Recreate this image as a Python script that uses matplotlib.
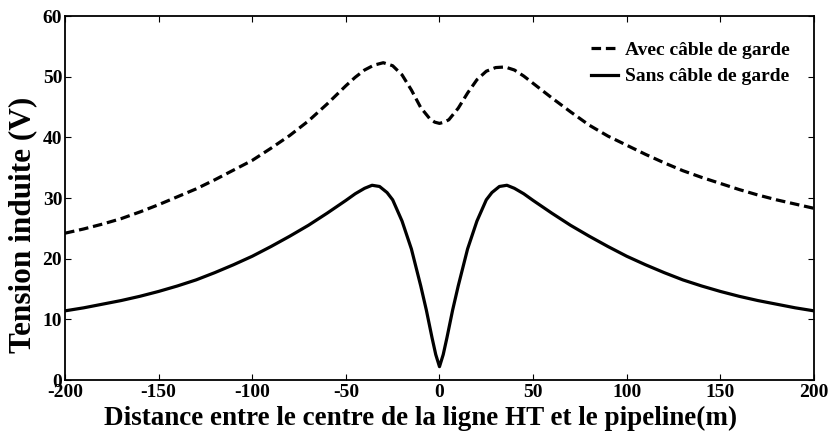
import numpy as np
import matplotlib.pyplot as plt

# distance from the HT line centre (m)
x_avec = [-200, -190, -180, -170, -160, -150, -140, -130, -120, -110, -100,
          -90, -80, -70, -60, -50, -45, -40, -35, -30, -25, -20, -15, -10, -5, -2.5, 0,
          2.5, 5, 10, 15, 20, 25, 30, 35, 40, 45, 50, 60, 70, 80, 90, 100,
          110, 120, 130, 140, 150, 160, 170, 180, 190, 200]
# induced voltage with earth wire (V)
v_avec = [24.2, 24.9, 25.7, 26.6, 27.7, 28.9, 30.2, 31.5, 33.0, 34.6, 36.2,
          38.2, 40.3, 42.7, 45.5, 48.5, 49.9, 51.1, 51.9, 52.3, 51.8, 50.3, 47.8, 44.9, 43.0, 42.5, 42.3,
          42.5, 42.9, 44.8, 47.3, 49.5, 50.9, 51.5, 51.6, 51.1, 50.1, 48.9, 46.5, 44.2, 42.0, 40.2, 38.7,
          37.2, 35.8, 34.5, 33.4, 32.4, 31.4, 30.5, 29.7, 29.0, 28.3]

x_sans = [-200, -190, -180, -170, -160, -150, -140, -130, -120, -110, -100,
          -90, -80, -70, -60, -50, -45, -40, -36, -32, -28, -25, -20, -15, -10,
          -7, -4, -2, 0, 2, 4, 7, 10, 15, 20, 25, 28, 32, 36, 40, 45, 50,
          60, 70, 80, 90, 100, 110, 120, 130, 140, 150, 160, 170, 180, 190, 200]
# induced voltage without earth wire (V)
v_sans = [11.4, 11.9, 12.5, 13.1, 13.8, 14.6, 15.5, 16.5, 17.7, 19.0, 20.4,
          22.0, 23.7, 25.5, 27.5, 29.6, 30.7, 31.6, 32.1, 31.9, 30.9, 29.7, 26.2, 21.6, 15.5,
          11.5, 7.0, 4.2, 2.2, 4.2, 7.0, 11.5, 15.5, 21.6, 26.2, 29.7, 30.9, 31.9, 32.1, 31.6, 30.7, 29.6,
          27.5, 25.5, 23.7, 22.0, 20.4, 19.0, 17.7, 16.5, 15.5, 14.6, 13.8, 13.1, 12.5, 11.9, 11.4]

xticks = [-200, -150, -100, -50, 0, 50, 100, 150, 200]
yticks = [0, 10, 20, 30, 40, 50, 60]

plt.rcParams['font.family'] = ['Liberation Serif', 'DejaVu Serif']
plt.rcParams['font.weight'] = 'bold'
plt.rcParams['axes.unicode_minus'] = False

fig = plt.figure(figsize=(8.3, 4.36), dpi=100)
ax = fig.add_axes([0.0783, 0.1284, 0.9024, 0.8349])

ax.plot(x_avec, v_avec, color='black', linewidth=2.3, linestyle=(0, (3.0, 1.5)),
        label='Avec câble de garde')
ax.plot(x_sans, v_sans, color='black', linewidth=2.3, label='Sans câble de garde')

ax.set_xlim(-200, 200)
ax.set_ylim(0, 60)
ax.set_xticks(xticks)
ax.set_yticks(yticks)
ax.tick_params(direction='in', top=True, right=True, length=4, width=0.8,
               labelsize=14, pad=2)
ax.tick_params(axis='x', pad=3)
for lab in ax.get_xticklabels() + ax.get_yticklabels():
    lab.set_fontweight('bold')
for s in ax.spines.values():
    s.set_linewidth(1.3)

ax.set_xlabel('Distance entre le centre de la ligne HT et le pipeline(m)',
              fontsize=19.5, fontweight='bold')
ax.xaxis.set_label_coords(0.475, -0.072, transform=ax.transAxes)
ax.xaxis.label.set_va('top')
ax.set_ylabel('Tension induite (V)', fontsize=22.5, fontweight='bold')
ax.yaxis.set_label_coords(-0.037, 0.426, transform=ax.transAxes)

leg = ax.legend(loc='upper right', bbox_to_anchor=(0.968, 0.93), frameon=False,
                handlelength=1.4, prop={'weight': 'bold', 'size': 14},
                borderaxespad=0, borderpad=0, labelspacing=0.45, handletextpad=0.35)

fig.savefig('out.png', dpi=100)
